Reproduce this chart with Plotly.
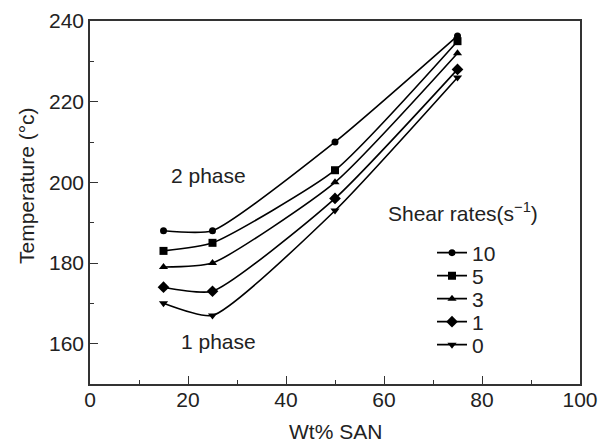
import plotly.graph_objects as go

wt_san = [15, 25, 50, 75]
rate_labels = ["10", "5", "3", "1", "0"]
temp_10 = [188, 188, 210, 236.3]
temp_5 = [183, 185, 203, 235]
temp_3 = [179, 180, 200, 232]
temp_1 = [174, 173, 196, 228]
temp_0 = [170, 167, 193, 226]
series = [temp_10, temp_5, temp_3, temp_1, temp_0]
symbols = ["circle", "square", "triangle-up", "diamond", "triangle-down"]
sizes = [7, 8, 8, 9, 8]

FONT = "Liberation Sans, Arial, Helvetica, sans-serif"
FS = 21
TXT = "#222"

# plot area in pixels (for placing paper-referenced items)
L, R, T, B = 90, 580, 21, 384
def px_x(p):
    return (p - L) / (R - L)
def px_y(p):
    return (B - p) / (B - T)

legend_rows = [253, 276, 299, 322, 345]

fig = go.Figure()
for i, (lab, ys, sym, sz) in enumerate(zip(rate_labels, series, symbols, sizes)):
    lg = "legend" if i == 0 else f"legend{i + 1}"
    fig.add_trace(go.Scatter(
        x=wt_san, y=ys, name=lab, mode="lines+markers", legend=lg,
        line=dict(color="black", width=1.6, shape="spline", smoothing=0.55),
        marker=dict(symbol=sym, size=sz, color="black"),
    ))

axis_common = dict(
    showline=True, linecolor="#333", linewidth=1.5, mirror=True,
    ticks="inside", ticklen=8, tickwidth=1.2, tickcolor="#333",
    showgrid=False, zeroline=False, automargin=False,
    tickfont=dict(family=FONT, size=FS, color=TXT),
    minor=dict(ticks="inside", ticklen=4, tickwidth=1, tickcolor="#333", showgrid=False),
)

fig.update_xaxes(range=[0, 100], dtick=20, minor_dtick=10, ticklabelstandoff=-4,
                 **axis_common)
fig.update_yaxes(range=[150, 240], tickvals=[160, 180, 200, 220, 240], minor_dtick=10,
                 **axis_common)

# axis titles
fig.add_annotation(x=0.5, y=px_y(431), xref="paper", yref="paper", showarrow=False,
                   xanchor="center", yanchor="middle", text="Wt% SAN",
                   font=dict(family=FONT, size=FS, color=TXT))
fig.add_annotation(x=px_x(26), y=px_y(186), xref="paper", yref="paper", showarrow=False,
                   xanchor="center", yanchor="middle", textangle=-90,
                   text="Temperature (°c)",
                   font=dict(family=FONT, size=FS, color=TXT))

fig.add_annotation(x=24.1, y=201.8, text="2 phase", showarrow=False, xref="x", yref="y",
                   font=dict(family=FONT, size=FS, color=TXT))
fig.add_annotation(x=26.2, y=160.6, text="1 phase", showarrow=False, xref="x", yref="y",
                   font=dict(family=FONT, size=FS, color=TXT))
fig.add_annotation(x=px_x(386), y=px_y(212), xref="paper", yref="paper",
                   xanchor="left", yanchor="middle", showarrow=False,
                   text="Shear rates(s<sup>−1</sup>)",
                   font=dict(family=FONT, size=FS, color=TXT))

layout_legends = {}
for i, row in enumerate(legend_rows):
    key = "legend" if i == 0 else f"legend{i + 1}"
    layout_legends[key] = dict(
        x=px_x(432), y=px_y(row), xanchor="left", yanchor="middle",
        bgcolor="rgba(0,0,0,0)", borderwidth=0,
        font=dict(family=FONT, size=FS, color=TXT),
        itemwidth=30, tracegroupgap=0,
    )

fig.update_layout(
    width=599, height=442,
    margin=dict(l=L, r=599 - R, t=T, b=442 - B, autoexpand=False),
    paper_bgcolor="white", plot_bgcolor="white",
    showlegend=True,
    **layout_legends,
)

fig.write_html("out.html")
